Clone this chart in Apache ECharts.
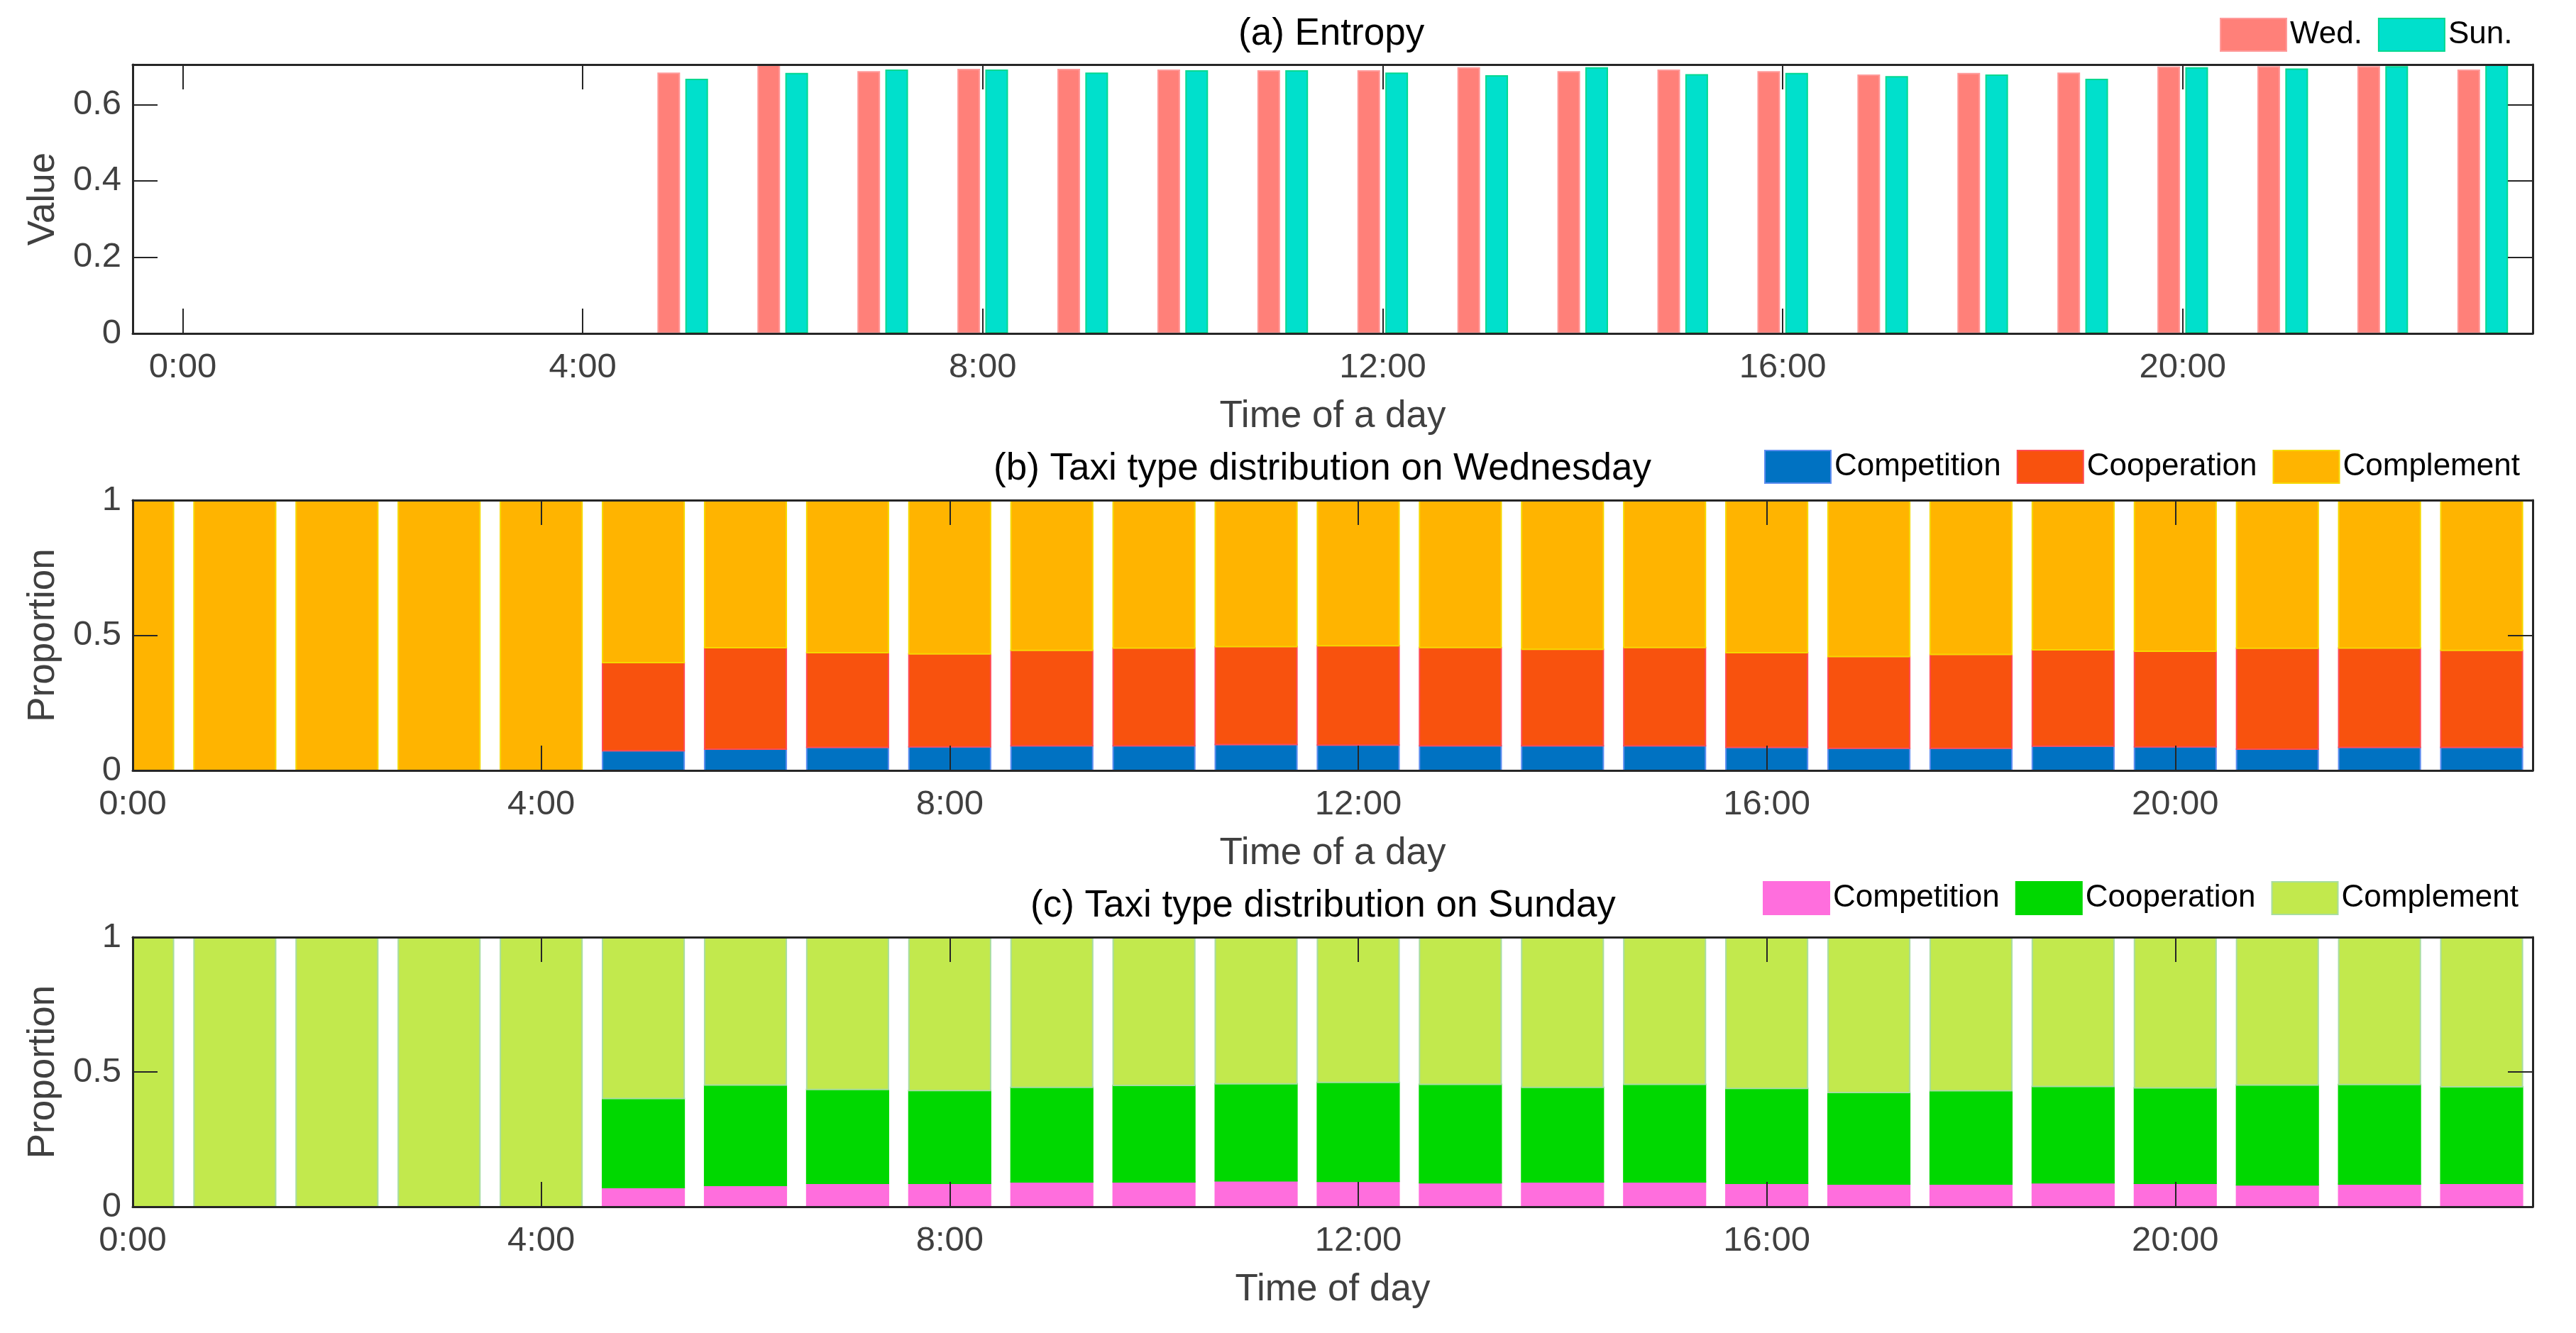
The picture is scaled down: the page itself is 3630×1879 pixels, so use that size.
<!DOCTYPE html>
<html>
<head>
<meta charset="utf-8">
<script src="https://cdn.jsdelivr.net/npm/echarts@6/dist/echarts.min.js"></script>
<style>
html,body{margin:0;padding:0;background:#fff;}
#chart{width:3630px;height:1879px;}
</style>
</head>
<body>
<div id="chart"></div>
<script>
// ---------------- data ----------------
const hours = [0,1,2,3,4,5,6,7,8,9,10,11,12,13,14,15,16,17,18,19,20,21,22,23];
const xTickLabels = ['0:00','4:00','8:00','12:00','16:00','20:00'];
const entropyLegend = ['Wed.','Sun.'];
const typeNames = ['Competition','Cooperation','Complement'];

// (a) entropy
const entropyWed = [null,null,null,null,null,0.684,0.710,0.688,0.694,0.694,0.692,0.690,0.690,0.698,0.688,0.692,0.688,0.679,0.683,0.684,0.700,0.701,0.701,0.692];
const entropySun = [null,null,null,null,null,0.668,0.683,0.692,0.692,0.684,0.690,0.690,0.684,0.677,0.698,0.680,0.683,0.675,0.679,0.668,0.698,0.695,0.701,0.710];

// (b) Wednesday proportions
const wedCompetition = [0,0,0,0,0,0.073,0.079,0.085,0.087,0.091,0.091,0.096,0.094,0.091,0.091,0.091,0.085,0.082,0.082,0.090,0.087,0.079,0.085,0.085];
const wedCooperation = [0,0,0,0,0,0.326,0.375,0.351,0.344,0.353,0.362,0.362,0.367,0.364,0.357,0.364,0.351,0.339,0.347,0.356,0.354,0.373,0.368,0.359];
const wedComplement  = [1,1,1,1,1,0.601,0.546,0.564,0.569,0.556,0.547,0.542,0.539,0.545,0.552,0.545,0.564,0.579,0.571,0.554,0.559,0.548,0.547,0.556];

// (c) Sunday proportions
const sunCompetition = [0,0,0,0,0,0.071,0.079,0.087,0.087,0.092,0.092,0.096,0.094,0.089,0.092,0.092,0.087,0.084,0.084,0.089,0.087,0.081,0.084,0.087];
const sunCooperation = [0,0,0,0,0,0.330,0.372,0.348,0.344,0.351,0.358,0.360,0.367,0.365,0.351,0.362,0.352,0.340,0.346,0.357,0.354,0.370,0.369,0.358];
const sunComplement  = [1,1,1,1,1,0.599,0.549,0.565,0.569,0.557,0.550,0.544,0.539,0.546,0.557,0.546,0.561,0.576,0.570,0.554,0.559,0.549,0.547,0.555];

// ---------------- style ----------------
const FONT = "'Liberation Sans', Arial, sans-serif";
const AXIS_COLOR = '#262626';
const LABEL_COLOR = '#404040';
const BAR_FRACTION = 0.8; // bar width as fraction of one hour (panels b, c)
const GRID_LEFT = 187, GRID_W = 3382;
const grids = [
  {left: GRID_LEFT, top: 91, width: GRID_W, height: 379},
  {left: GRID_LEFT, top: 705, width: GRID_W, height: 381},
  {left: GRID_LEFT, top: 1321, width: GRID_W, height: 380}
];

function tickStyle() { return {show: true, inside: true, length: 35, lineStyle: {color: AXIS_COLOR, width: 2}}; }
function lineStyle() { return {show: true, onZero: false, lineStyle: {color: AXIS_COLOR, width: 3}}; }
function labelStyle() { return {color: LABEL_COLOR, fontSize: 49, fontFamily: FONT}; }
const nameStyle = {color: LABEL_COLOR, fontSize: 53, fontFamily: FONT};

function valueXLabel(v) {
  const i = Math.round(v / 4);
  return (Math.abs(v - i * 4) < 1e-6 && xTickLabels[i] !== undefined) ? xTickLabels[i] : '';
}

const xAxes = [], yAxes = [];
// grid 0: category axis
xAxes.push({
  type: 'category', gridIndex: 0, position: 'bottom', data: hours, z: 10,
  axisLine: lineStyle(),
  axisTick: Object.assign(tickStyle(), {alignWithLabel: true, interval: 3}),
  axisLabel: Object.assign(labelStyle(), {interval: 3, margin: 24,
    formatter: (v, i) => xTickLabels[i / 4] || ''}),
  name: 'Time of a day', nameLocation: 'middle', nameGap: 91, nameTextStyle: nameStyle,
  splitLine: {show: false}
});
xAxes.push({
  type: 'category', gridIndex: 0, position: 'top', data: hours, z: 10,
  axisLine: lineStyle(),
  axisTick: Object.assign(tickStyle(), {alignWithLabel: true, interval: 3}),
  axisLabel: {show: false}, splitLine: {show: false}
});
yAxes.push({
  type: 'value', gridIndex: 0, position: 'left', min: 0, max: 0.705, interval: 0.2, z: 10,
  axisLine: lineStyle(), axisTick: tickStyle(),
  axisLabel: Object.assign(labelStyle(), {margin: 16, showMaxLabel: false,
    formatter: v => (Math.abs(v / 0.2 - Math.round(v / 0.2)) < 1e-6 ? String(+v.toFixed(1)) : '')}),
  name: 'Value', nameLocation: 'middle', nameGap: 99, nameTextStyle: nameStyle,
  splitLine: {show: false}
});
yAxes.push({
  type: 'value', gridIndex: 0, position: 'right', min: 0, max: 0.705, interval: 0.2, z: 10,
  axisLine: lineStyle(), axisTick: tickStyle(), axisLabel: {show: false}, splitLine: {show: false}
});
// grids 1,2: value x axis
const xNames = ['Time of a day', 'Time of day'];
[1, 2].forEach((g, k) => {
  xAxes.push({
    type: 'value', gridIndex: g, position: 'bottom', min: 0, max: 23.5, interval: 4, z: 10,
    axisLine: lineStyle(), axisTick: tickStyle(),
    axisLabel: Object.assign(labelStyle(), {margin: 24, showMaxLabel: false, formatter: valueXLabel}),
    name: xNames[k], nameLocation: 'middle', nameGap: 91, nameTextStyle: nameStyle,
    splitLine: {show: false}
  });
  xAxes.push({
    type: 'value', gridIndex: g, position: 'top', min: 0, max: 23.5, interval: 4, z: 10,
    axisLine: lineStyle(), axisTick: tickStyle(), axisLabel: {show: false}, splitLine: {show: false}
  });
  yAxes.push({
    type: 'value', gridIndex: g, position: 'left', min: 0, max: 1, interval: 0.5, z: 10,
    axisLine: lineStyle(), axisTick: tickStyle(),
    axisLabel: Object.assign(labelStyle(), {margin: 16, formatter: v => String(v)}),
    name: 'Proportion', nameLocation: 'middle', nameGap: 99, nameTextStyle: nameStyle,
    splitLine: {show: false}
  });
  yAxes.push({
    type: 'value', gridIndex: g, position: 'right', min: 0, max: 1, interval: 0.5, z: 10,
    axisLine: lineStyle(), axisTick: tickStyle(), axisLabel: {show: false}, splitLine: {show: false}
  });
});
// axis indices: x: 0 bottom a, 1 top a, 2 bottom b, 3 top b, 4 bottom c, 5 top c
// y: 0 left a, 1 right a, 2 left b, 3 right b, 4 left c, 5 right c

const series = [];
series.push({
  type: 'bar', name: entropyLegend[0], xAxisIndex: 0, yAxisIndex: 0, data: entropyWed,
  barWidth: 32, barGap: '23%',
  itemStyle: {color: '#FF8079', borderColor: '#FF9A9A', borderWidth: 2}
});
series.push({
  type: 'bar', name: entropyLegend[1], xAxisIndex: 0, yAxisIndex: 0, data: entropySun,
  barWidth: 32, barGap: '23%',
  itemStyle: {color: '#00E0CC', borderColor: '#00D890', borderWidth: 2}
});

const wedColors = [
  {color: '#0072C2', borderColor: '#5D8DF0'},
  {color: '#F8520E', borderColor: '#FF4B55'},
  {color: '#FFB400', borderColor: '#F5D800'}
];
const sunColors = [
  {color: '#FF6EDD', borderColor: '#FF6EDD'},
  {color: '#00D800', borderColor: '#00D800'},
  {color: '#C2E94D', borderColor: '#A8DDA0'}
];
const wedData = [wedCompetition, wedCooperation, wedComplement];
const sunData = [sunCompetition, sunCooperation, sunComplement];

// stacked bar drawn through the axes' scales, clipped to the plot area (as MATLAB does)
function stackedBarItem(params, api) {
  const h = api.value(0), v = api.value(1), base = api.value(2);
  const p0 = api.coord([h, base]);
  const p1 = api.coord([h, base + v]);
  const w = api.size([BAR_FRACTION, 0])[0];
  const cs = params.coordSys;
  const shape = echarts.graphic.clipRectByRect(
    {x: p0[0] - w / 2, y: p1[1], width: w, height: p0[1] - p1[1]},
    {x: cs.x, y: cs.y, width: cs.width, height: cs.height});
  if (!shape) return null;
  return {type: 'rect', shape: shape, style: api.style()};
}
function stackedSeries(name, layers, i, colors, axisIdx) {
  return {
    type: 'custom', name: name, xAxisIndex: axisIdx, yAxisIndex: axisIdx,
    dimensions: ['hour', 'value', 'base'],
    encode: {x: 'hour', y: 'value'},
    data: hours.map((h, j) => {
      let base = 0;
      for (let k = 0; k < i; k++) base += layers[k][j];
      return [h, layers[i][j], base];
    }),
    renderItem: stackedBarItem,
    itemStyle: Object.assign({borderWidth: 2}, colors[i])
  };
}
typeNames.forEach((n, i) => series.push(stackedSeries(n, wedData, i, wedColors, 2)));
typeNames.forEach((n, i) => series.push(stackedSeries(n + ' (Sun)', sunData, i, sunColors, 4)));

const legendCommon = {
  orient: 'horizontal', itemWidth: 93, itemHeight: 46, itemGap: 22, icon: 'rect',
  selectedMode: false,
  textStyle: {fontSize: 44, color: '#000', fontFamily: FONT}
};
const titleStyle = {fontSize: 53, color: '#000', fontWeight: 'normal', fontFamily: FONT};

const option = {
  animation: false,
  backgroundColor: '#fff',
  title: [
    {text: '(a) Entropy', left: 1745, top: 22, padding: 0, textStyle: titleStyle},
    {text: '(b) Taxi type distribution on Wednesday', left: 1400, top: 635, padding: 0, textStyle: titleStyle},
    {text: '(c) Taxi type distribution on Sunday', left: 1452, top: 1251, padding: 0, textStyle: titleStyle}
  ],
  legend: [
    Object.assign({}, legendCommon, {data: entropyLegend, left: 3128, top: 25, padding: 0}),
    Object.assign({}, legendCommon, {data: typeNames, left: 2486, top: 634, padding: 0}),
    Object.assign({}, legendCommon, {data: typeNames.map(n => n + ' (Sun)'), left: 2484, top: 1242, padding: 0,
      formatter: name => name.replace(' (Sun)', '')})
  ],
  grid: grids.map(g => Object.assign({containLabel: false, outerBoundsMode: 'none'}, g)),
  xAxis: xAxes,
  yAxis: yAxes,
  series: series
};

const chart = echarts.init(document.getElementById('chart'), null, {renderer: 'canvas'});
chart.setOption(option);
</script>
</body>
</html>
